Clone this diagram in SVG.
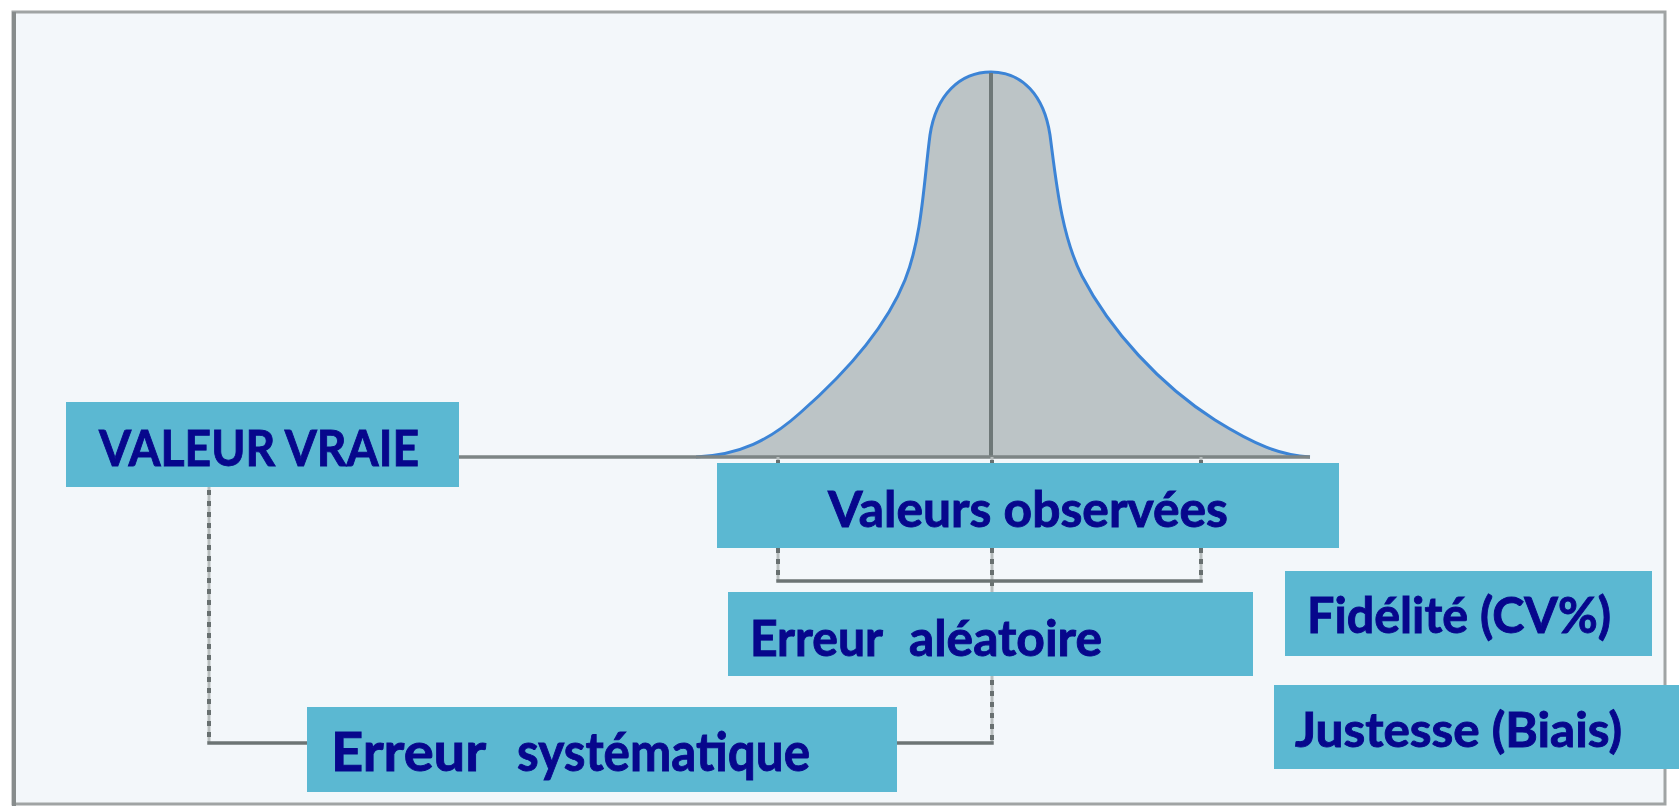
<svg xmlns="http://www.w3.org/2000/svg" width="1679" height="808" viewBox="0 0 1679 808">
<style>
.box{fill:#5bb8d2}
.lbl{font-family:Lato,"Liberation Sans",sans-serif;font-weight:bold;fill:#07078c;stroke:#07078c;stroke-width:0.9}
.solid{stroke:#6c7474;stroke-width:3.5;fill:none;stroke-linecap:square}
.dotbase{stroke:#b8bebe;stroke-width:3;fill:none}
.dots{stroke:#687070;stroke-width:4;fill:none;stroke-dasharray:5 6}
</style>
<rect x="0" y="0" width="1679" height="808" fill="#ffffff"/>
<rect x="13" y="12" width="1652" height="792" fill="#f3f7fa" stroke="#a0a4a4" stroke-width="3"/>
<line x1="14" y1="12" x2="14" y2="806" stroke="#878c8c" stroke-width="4"/>

<g id="curve">
<path d="M 696 457 C 740 455, 770 440, 800 413 C 840 378, 885 330, 905 280 C 922 238, 924 180, 930 135 C 936 95, 960 72, 991 72 C 1022 72, 1044 95, 1050 135 C 1056 180, 1061 235, 1082 276 C 1110 330, 1160 385, 1215 420 C 1255 445, 1280 455, 1310 457 Z" fill="#bcc4c6"/>
<path d="M 696 457 C 740 455, 770 440, 800 413 C 840 378, 885 330, 905 280 C 922 238, 924 180, 930 135 C 936 95, 960 72, 991 72 C 1022 72, 1044 95, 1050 135 C 1056 180, 1061 235, 1082 276 C 1110 330, 1160 385, 1215 420 C 1255 445, 1280 455, 1310 457" fill="none" stroke="#3c84d6" stroke-width="3"/>
<line x1="991" y1="73" x2="991" y2="457" stroke="#6e7878" stroke-width="4"/>
<line x1="459" y1="457" x2="1310" y2="457" stroke="#7d8585" stroke-width="3.5"/>
</g>

<g id="connectors">
<line class="dotbase" x1="209" y1="487" x2="209" y2="742"/>
<line class="dots" x1="209" y1="490" x2="209" y2="742"/>
<line class="dotbase" x1="992" y1="457" x2="992" y2="742"/>
<line class="dots" x1="992" y1="460" x2="992" y2="742"/>
<line class="dotbase" x1="778" y1="457" x2="778" y2="581"/>
<line class="dots" x1="778" y1="460" x2="778" y2="581"/>
<line class="dotbase" x1="1201" y1="457" x2="1201" y2="581"/>
<line class="dots" x1="1201" y1="460" x2="1201" y2="581"/>
<path class="solid" d="M 209 743 L 992 743"/>
<path class="solid" d="M 778 581 L 1201 581"/>
</g>

<g id="valeur-vraie">
<rect class="box" x="66" y="402" width="393" height="85"/>
<text class="lbl" x="99" y="466" font-size="50" textLength="320" lengthAdjust="spacingAndGlyphs">VALEUR VRAIE</text>
</g>

<g id="valeurs-observees">
<rect class="box" x="717" y="463" width="622" height="85"/>
<text class="lbl" x="828" y="527" font-size="49" textLength="400" lengthAdjust="spacingAndGlyphs">Valeurs observées</text>
</g>

<g id="erreur-aleatoire">
<rect class="box" x="728" y="592" width="525" height="84"/>
<text class="lbl" y="656" font-size="49"><tspan x="750" textLength="132" lengthAdjust="spacingAndGlyphs">Erreur</tspan> <tspan x="909" textLength="193" lengthAdjust="spacingAndGlyphs">aléatoire</tspan></text>
</g>

<g id="erreur-systematique">
<rect class="box" x="307" y="707" width="590" height="85"/>
<text class="lbl" y="771" font-size="54"><tspan x="331" textLength="154" lengthAdjust="spacingAndGlyphs">Erreur</tspan> <tspan x="517" textLength="293" lengthAdjust="spacingAndGlyphs">systématique</tspan></text>
</g>

<g id="fidelite">
<rect class="box" x="1285" y="571" width="367" height="85"/>
<text class="lbl" x="1307" y="633" font-size="49" textLength="304" lengthAdjust="spacingAndGlyphs">Fidélité (CV%)</text>
</g>

<g id="justesse">
<rect class="box" x="1274" y="685" width="405" height="84"/>
<text class="lbl" x="1295" y="747" font-size="47" textLength="327" lengthAdjust="spacingAndGlyphs">Justesse (Biais)</text>
</g>
</svg>
